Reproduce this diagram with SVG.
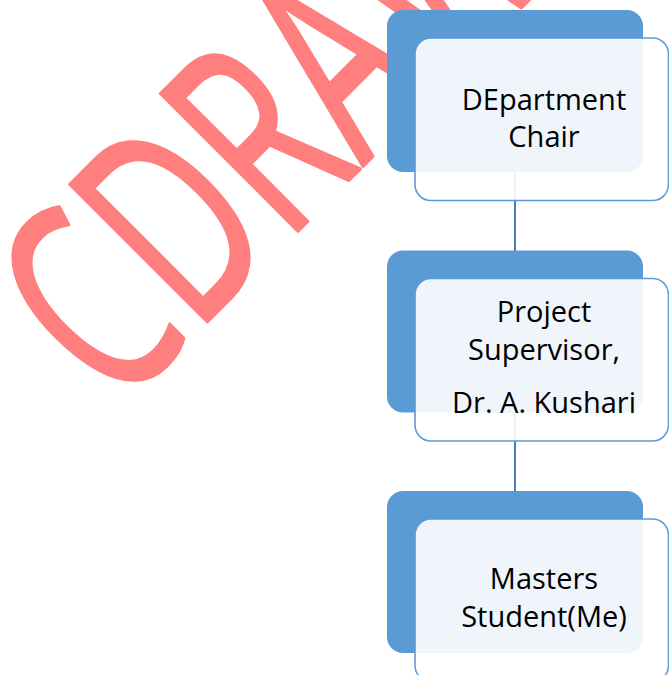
<svg xmlns="http://www.w3.org/2000/svg" width="669" height="675" viewBox="0 0 669 675">
<defs>
<style>
.wm{font-family:"Open Sans","Noto Sans",sans-serif;font-size:272px;fill:#FF7F7F;stroke:#FF7F7F;stroke-width:3.5;stroke-linejoin:round;}
.back{fill:#5B9BD5;}
.front{fill:#FFFFFF;fill-opacity:0.9;stroke:#5B9BD5;stroke-width:1.6;}
.lbl{font-family:"Open Sans","Noto Sans",sans-serif;font-size:29px;fill:#000000;text-anchor:middle;}
.conn{stroke:#4A7EBB;stroke-width:2;fill:none;}
</style>
</defs>
<rect width="669" height="675" fill="#FFFFFF"/>
<text class="wm" transform="translate(116,413) rotate(-45) scale(0.65,1)">CDRAW</text>
<g id="connectors">
<line class="conn" x1="515" y1="172" x2="515" y2="251"/>
<line class="conn" x1="515" y1="412" x2="515" y2="491"/>
</g>
<g id="node1">
<rect class="back" x="387" y="10" width="256" height="162" rx="16"/>
<rect class="front" x="415" y="38" width="253.5" height="162.5" rx="16"/>
<text class="lbl" x="544" y="110">DEpartment</text>
<text class="lbl" x="544" y="147">Chair</text>
</g>
<g id="node2">
<rect class="back" x="387" y="250.5" width="256" height="162" rx="16"/>
<rect class="front" x="415" y="278.5" width="253.5" height="162.5" rx="16"/>
<text class="lbl" x="544" y="321.5">Project</text>
<text class="lbl" x="544" y="359.5">Supervisor,</text>
<text class="lbl" x="544" y="412.5">Dr. A. Kushari</text>
</g>
<g id="node3">
<rect class="back" x="387" y="491" width="256" height="162" rx="16"/>
<rect class="front" x="415" y="519" width="253.5" height="162.5" rx="16"/>
<text class="lbl" x="544" y="589">Masters</text>
<text class="lbl" x="544" y="627">Student(Me)</text>
</g>
</svg>
